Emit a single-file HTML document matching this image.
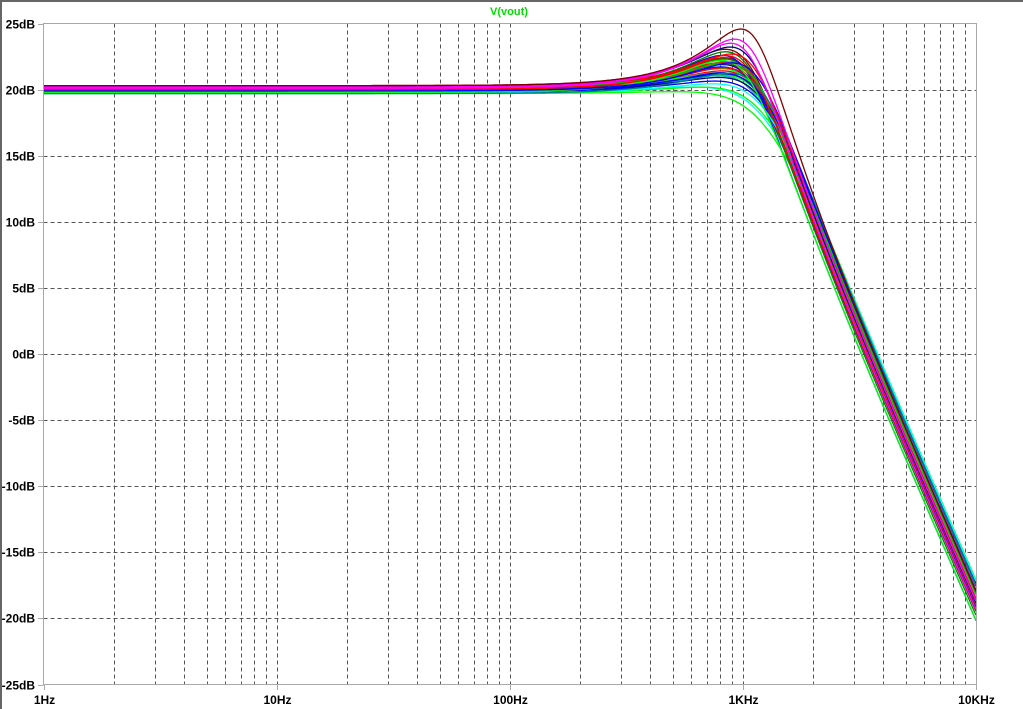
<!DOCTYPE html>
<html><head><meta charset="utf-8"><style>
html,body{margin:0;padding:0;background:#fff;width:1023px;height:709px;overflow:hidden}
svg{display:block}
text{font-family:"Liberation Sans",Arial,sans-serif}
</style></head><body>
<svg id="chart" width="1023" height="709" viewBox="0 0 1023 709" xmlns="http://www.w3.org/2000/svg">
<rect x="0" y="0" width="1023" height="709" fill="#fff"/>
<rect x="0" y="0" width="1023" height="2" fill="#666"/>
<rect x="0" y="0" width="2" height="709" fill="#666"/>
<text x="509" y="15" fill="#00e000" font-size="11" font-weight="bold" text-anchor="middle">V(vout)</text>
<g id="grid"></g>
<g id="traces"></g>
<rect x="43.5" y="23.5" width="933" height="661" fill="none" stroke="#a8a8a8" stroke-width="1"/>
<g id="labels"></g>
</svg>
<script>
const yTicks=[25,20,15,10,5,0,-5,-10,-15,-20,-25];
const xDecades=[1,10,100,1000,10000];
const xTickLabels=["1Hz","10Hz","100Hz","1KHz","10KHz"];
// Monte Carlo runs: DC gain (dB), corner freq (Hz), Q
const runGain=[20.3,20.2,20.1,20.0,19.9,19.8,19.7,20.25,20.15,20.05,19.95,19.85,19.75,20.3,20.0,19.9,20.1,20.2,19.8,19.7,20.05,19.95,20.15,20.25,19.85,20.0,20.1,19.9,20.2,19.8,20.0,20.3,19.75,20.05,19.95,20.15,19.85,20.1,20.0,19.9];
const runF0=[1100,1060,1030,1080,1130,1000,1170,1050,1100,1030,1150,1070,1190,1090,1010,1120,1080,1160,1040,1200,1110,990,1140,1060,1180,1030,1090,1165,1045,1105,1070,1015,1195,1125,1050,1150,1095,1025,1080,1185];
const runQ=[1.55,1.42,1.38,1.25,1.15,1.2,1.05,1.3,1.1,1.22,1.0,1.18,0.9,1.08,1.28,1.02,1.12,0.95,1.16,0.78,1.06,1.24,0.98,1.14,0.92,1.2,1.04,0.96,1.1,1.0,1.08,1.26,0.85,1.02,1.12,0.94,1.0,1.18,1.06,0.82];
const runColor=["#800000","#ff00ff","#ff00ff","#ff0000","#0000ff","#00ff00","#008080","#000080","#00c000","#ff0000","#0000ff","#808000","#00ffff","#ff0000","#008000","#0000ff","#ff00ff","#00ff00","#800080","#00ff00","#ff0000","#0000ff","#808080","#008000","#0000ff","#c00000","#00ff00","#000080","#ff0000","#00c0c0","#0000ff","#800000","#00ff00","#ff0000","#0000c0","#00ff00","#ff00ff","#008000","#0000ff","#00ffff"];

const X0=44,PX=233,Y0=23.5,PY=661/50;
const xs=f=>X0+PX*Math.log10(f);
const ys=d=>Y0+(25-d)*PY;
const NS="http://www.w3.org/2000/svg";
const grid=document.getElementById('grid');
const labels=document.getElementById('labels');
function mk(tag,attrs,parent){const e=document.createElementNS(NS,tag);for(const k in attrs)e.setAttribute(k,attrs[k]);parent.appendChild(e);return e;}
for(let d=0;d<4;d++){
  for(let m=1;m<=10;m++){
    const f=xDecades[d]*m;
    if(m===1&&d===0)continue;
    const x=Math.round(xs(f))+0.5;
    const l=mk('line',{x1:x,x2:x,y1:23.5,y2:684.5,stroke:'#555','stroke-width':1,'stroke-dasharray':'4,3'},grid);
    
    
  }
}
yTicks.forEach(t=>{
  const y=Math.round(ys(t))+0.5;
  if(t!==25&&t!==-25){
    const l=mk('line',{x1:43.5,x2:976.5,y1:y,y2:y,stroke:'#555','stroke-width':1,'stroke-dasharray':'4,3'},grid);
    
    
  }
  mk('line',{x1:38,x2:43.5,y1:y,y2:y,stroke:'#a8a8a8'},labels);
  const tx=mk('text',{x:35,y:y+4,'font-size':12,'font-weight':'bold','text-anchor':'end',fill:'#000'},labels);
  tx.textContent=t+'dB';
  
  
});
xDecades.forEach((f,i)=>{
  const x=Math.round(xs(f))+0.5;
  mk('line',{x1:x,x2:x,y1:684.5,y2:690,stroke:'#a8a8a8'},labels);
  const tx=mk('text',{x:x,y:704,'font-size':12,'font-weight':'bold','text-anchor':'middle',fill:'#000'},labels);
  tx.textContent=xTickLabels[i];
  
  
});
const traces=document.getElementById('traces');
for(let i=runGain.length-1;i>=0;i--){
  let pts=[];
  for(let k=0;k<=300;k++){
    const f=Math.pow(10,4*k/300);
    const u=f/runF0[i];
    const mag=runGain[i]-10*Math.log10((1-u*u)*(1-u*u)+(u/runQ[i])*(u/runQ[i]));
    pts.push(xs(f).toFixed(2)+','+ys(mag).toFixed(2));
  }
  const p=mk('polyline',{points:pts.join(' '),fill:'none',stroke:runColor[i],'stroke-width':1.3},traces);
  
  
}
</script>
</body></html>
